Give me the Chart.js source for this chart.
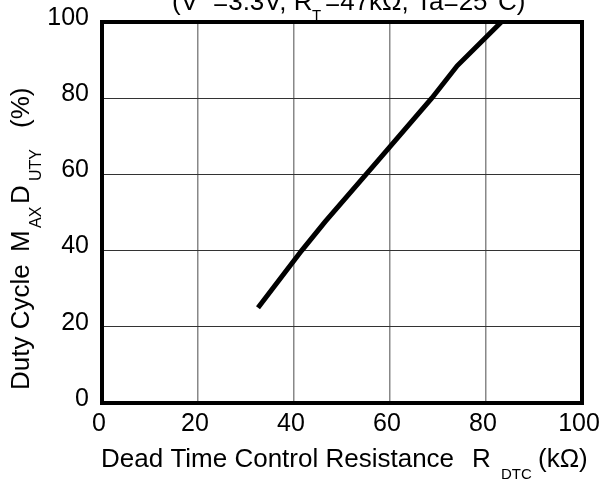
<!DOCTYPE html>
<html>
<head>
<meta charset="utf-8">
<script src="https://cdn.jsdelivr.net/npm/chart.js@4/dist/chart.umd.min.js"></script>
<style>
  html, body { margin: 0; padding: 0; background: #fff; }
  #wrap { width: 602px; height: 480px; }
</style>
</head>
<body>
<div id="wrap"><canvas id="dutyChart" width="602" height="480"></canvas></div>
<script>
// values
const resistance = [32.5, 41.6, 46.5, 57.9, 68.7, 74, 83.2]; // kOhm
const maxDuty = [25, 40, 47.6, 64.2, 80, 88.5, 100]; // %
const xTicks = [0, 20, 40, 60, 80, 100];
const yTicks = [0, 20, 40, 60, 80, 100];

const FONT = "'Liberation Sans', Arial, sans-serif";

// draw a run of [text, x, y, size] pieces
function drawPieces(ctx, pieces) {
  pieces.forEach((p) => {
    ctx.font = p[3] + "px " + FONT;
    ctx.fillText(p[0], p[1], p[2]);
  });
}

// frame + titles with subscripts (chart.js titles can't do subscripts)
const labelPlugin = {
  id: "labels",
  afterDatasetsDraw(chart) {
    const { ctx, chartArea: a } = chart;
    ctx.save();
    ctx.strokeStyle = "#000";
    ctx.lineWidth = 4;
    ctx.strokeRect(a.left, a.top, a.right - a.left, a.bottom - a.top);
    ctx.restore();
  },
  afterDraw(chart) {
    const ctx = chart.ctx;
    ctx.save();
    ctx.fillStyle = "#000";
    ctx.textAlign = "left";
    ctx.textBaseline = "alphabetic";

    // title, cut off at the top like the scan
    drawPieces(ctx, [
      ["(V", 172, 10, 26],
      ["=3.3V, R", 213, 10, 26],
      ["T", 312, 20, 15],
      ["=47k\u03A9, Ta=25\u00B0C)", 325, 10, 26],
    ]);

    // x axis title
    drawPieces(ctx, [
      ["Dead Time Control Resistance", 101, 467, 26],
      ["R", 472, 467, 26],
      ["DTC", 501, 479, 15],
      ["(k\u03A9)", 538, 467, 26],
    ]);

    // y axis title, rotated
    ctx.rotate(-Math.PI / 2);
    drawPieces(ctx, [
      ["Duty Cycle", -390, 29, 26],
      ["M", -252, 29, 26],
      ["AX", -228, 41, 16],
      ["D", -204, 29, 26],
      ["UTY", -181, 41, 16],
      ["(%)", -128, 29, 26],
    ]);
    ctx.restore();
  },
};

const ctx = document.getElementById("dutyChart").getContext("2d");
new Chart(ctx, {
  type: "line",
  data: {
    datasets: [
      {
        label: "Max duty",
        data: resistance.map((r, i) => ({ x: r, y: maxDuty[i] })),
        borderColor: "#000",
        borderWidth: 5,
        pointRadius: 0,
        tension: 0,
        fill: false,
      },
    ],
  },
  options: {
    responsive: false,
    animation: false,
    devicePixelRatio: 1,
    layout: { padding: { top: 22, right: 20, left: 0, bottom: 0 } },
    plugins: {
      legend: { display: false },
      tooltip: { enabled: false },
    },
    scales: {
      x: {
        type: "linear",
        min: 0,
        max: 100,
        afterBuildTicks: (s) => {
          s.ticks = xTicks.map((v) => ({ value: v }));
        },
        afterFit: (s) => {
          s.height = 77;
          s.paddingLeft = 0;
          s.paddingRight = 0;
        },
        ticks: {
          color: "#000",
          font: { family: FONT, size: 25 },
          padding: 6,
          labelOffset: -3,
          maxRotation: 0,
        },
        grid: { color: "#888", lineWidth: 1.5, drawTicks: false },
        border: { display: false },
      },
      y: {
        min: 0,
        max: 100,
        afterBuildTicks: (s) => {
          s.ticks = yTicks.map((v) => ({ value: v }));
        },
        afterFit: (s) => {
          s.width = 102;
          s.paddingTop = 0;
          s.paddingBottom = 0;
        },
        ticks: {
          color: "#000",
          font: { family: FONT, size: 25 },
          padding: 13,
          labelOffset: -4,
        },
        grid: { color: "#333", lineWidth: 1, drawTicks: false },
        border: { display: false },
      },
    },
  },
  plugins: [labelPlugin],
});
</script>
</body>
</html>
